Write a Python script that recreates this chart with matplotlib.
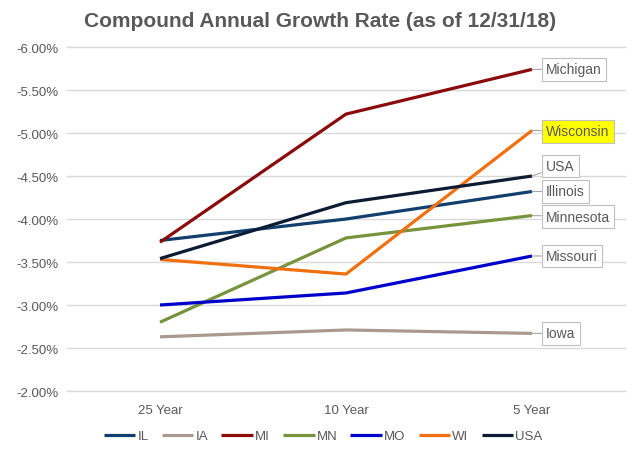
import matplotlib
matplotlib.use("Agg")
import matplotlib.pyplot as plt

plt.rcParams["font.family"] = ["Liberation Sans", "DejaVu Sans"]

# data
periods = ["25 Year", "10 Year", "5 Year"]
states = ["IL", "IA", "MI", "MN", "MO", "WI", "USA"]
full_names = ["Illinois", "Iowa", "Michigan", "Minnesota", "Missouri", "Wisconsin", "USA"]
il = [-3.75, -4.00, -4.32]
ia = [-2.63, -2.71, -2.67]
mi = [-3.73, -5.22, -5.74]
mn = [-2.80, -3.78, -4.04]
mo = [-3.00, -3.14, -3.57]
wi = [-3.53, -3.36, -5.03]
usa = [-3.54, -4.19, -4.50]
series = [il, ia, mi, mn, mo, wi, usa]
colors = ["#123F6E", "#A89A8E", "#8B0A0A", "#77933C", "#0000CC", "#F07010", "#0C1B33"]
yticks = [-6.0, -5.5, -5.0, -4.5, -4.0, -3.5, -3.0, -2.5, -2.0]

# label offsets (pixels) for the callout boxes at the 5 Year end
label_dy = {"Illinois": 0, "Iowa": 0, "Michigan": 0, "Minnesota": -1,
            "Missouri": 0, "Wisconsin": -1, "USA": 10}

txt = "#595959"

fig = plt.figure(figsize=(6.4, 4.52), dpi=100)
ax = fig.add_axes([0.1047, 0.1327, 0.8719, 0.7611])

x = list(range(len(periods)))
for name, vals, c in zip(states, series, colors):
    ax.plot(x, vals, color=c, lw=2.3, label=name, solid_capstyle="butt", zorder=3)

# callout labels
for full, vals in zip(full_names, series):
    fc = "#FFFF00" if full == "Wisconsin" else "white"
    ax.annotate(full, xy=(x[-1], vals[-1]), xytext=(14, label_dy[full]),
                textcoords="offset pixels", ha="left", va="center",
                fontsize=10, color=txt, zorder=5,
                bbox=dict(boxstyle="square,pad=0.3", fc=fc, ec="#BFBFBF", lw=0.8),
                arrowprops=dict(arrowstyle="-", color="#A6A6A6", lw=0.8,
                                shrinkA=0, shrinkB=0))

ax.set_xlim(-0.5, 2.5)
ax.set_ylim(-2.0, -6.0)
ax.set_yticks(yticks)
ax.set_yticklabels([f"{v:.2f}%" for v in yticks])
ax.set_xticks(x)
ax.set_xticklabels(periods)
ax.tick_params(length=0, labelsize=9.5, colors=txt)
ax.tick_params(axis="x", pad=9)
ax.tick_params(axis="y", pad=6)
ax.grid(axis="y", color="#D9D9D9", lw=1)
for gl in ax.get_ygridlines():
    gl.set_clip_on(False)
ax.set_axisbelow(True)
for s in ax.spines.values():
    s.set_visible(False)

fig.text(0.5, 0.953, "Compound Annual Growth Rate (as of 12/31/18)",
         ha="center", va="center", fontsize=15, fontweight="bold", color=txt)

leg = fig.legend(loc="center", bbox_to_anchor=(0.505, 0.033), ncol=7, frameon=False,
                 fontsize=9.5, handlelength=2.4, handletextpad=0.15, columnspacing=1.0)
for t in leg.get_texts():
    t.set_color(txt)

fig.savefig("out.png", dpi=100)
